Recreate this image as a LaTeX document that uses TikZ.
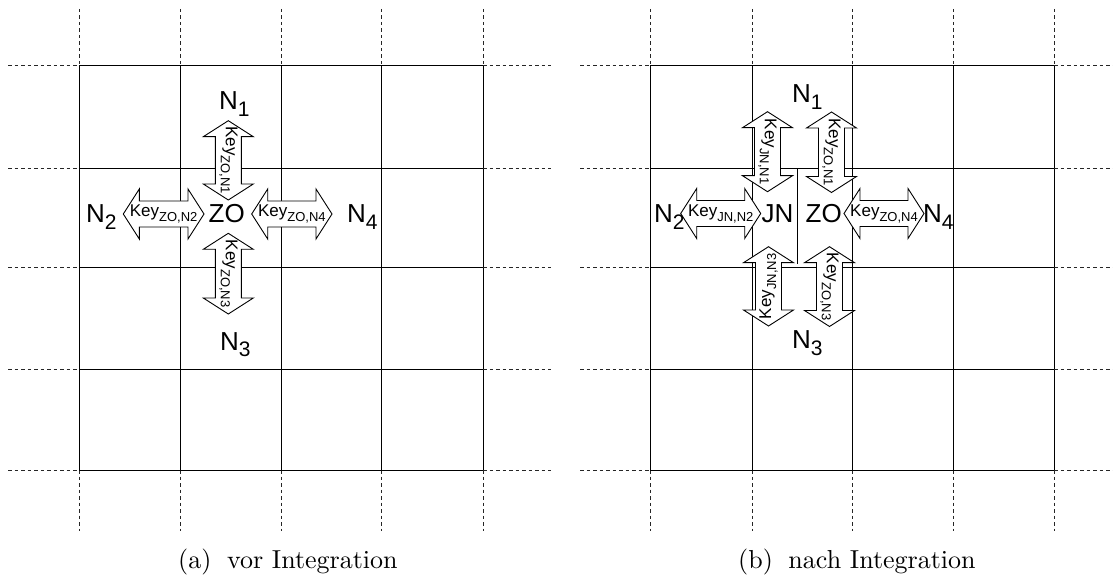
\documentclass[tikz,border=0pt]{standalone}
\usepackage{fontspec}
\newfontfamily\arial{Liberation Sans}
\newfontfamily\capfont{lmroman10-regular}[Extension=.otf]
\newcommand\Nl[1]{N\raisebox{-6.5pt}{\fontsize{21}{21}\selectfont #1}}
\newcommand\Ky[1]{Key\raisebox{-5pt}{\fontsize{13}{13}\selectfont #1}}
\tikzset{
  gridline/.style={line width=1pt, black},
  ext/.style={line width=1pt, black!85, dash pattern=on 3.5pt off 3pt},
  blockarrow/.style={draw=black, fill=white, line width=0.9pt, line join=miter},
  biglab/.style={font=\arial\fontsize{26}{26}\selectfont, inner sep=0pt},
  keylab/.style={font=\arial\fontsize{17}{17}\selectfont, inner sep=0pt},
  caplab/.style={font=\capfont\fontsize{26}{26}\selectfont, inner sep=0pt}
}
% horizontal double block arrow: name, x1, x2, y
\newcommand\harrow[4]{%
  \draw[blockarrow] (#2,#4) -- ({#2+16},{#4-25}) -- ({#2+16},{#4-13}) -- ({#3-16},{#4-13})
    -- ({#3-16},{#4-25}) -- (#3,#4) -- ({#3-16},{#4+25}) -- ({#3-16},{#4+13})
    -- ({#2+16},{#4+13}) -- ({#2+16},{#4+25}) -- cycle;
  \coordinate (#1) at ({(#2+#3)/2},#4);}
% vertical double block arrow: name, x, y1, y2
\newcommand\varrow[4]{%
  \draw[blockarrow] (#2,#3) -- ({#2+25},{#3+16}) -- ({#2+13},{#3+16}) -- ({#2+13},{#4-16})
    -- ({#2+25},{#4-16}) -- (#2,#4) -- ({#2-25},{#4-16}) -- ({#2-13},{#4-16})
    -- ({#2-13},{#3+16}) -- ({#2-25},{#3+16}) -- cycle;
  \coordinate (#1) at (#2,{(#3+#4)/2});}
\begin{document}
\begin{tikzpicture}[x=1pt,y=-1pt]
\useasboundingbox (0,0) rectangle (1113,577);
% ---------- left panel grid ----------
\foreach \x in {79,180,281,381,483} {
  \draw[gridline] (\x,66) -- (\x,470);
  \draw[ext] (\x,9) -- (\x,66);
  \draw[ext] (\x,470) -- (\x,531);
}
\foreach \y in {66,169,268,369,470} {
  \draw[gridline] (79,\y) -- (483,\y);
  \draw[ext] (8,\y) -- (79,\y);
  \draw[ext] (483,\y) -- (551,\y);
}
% ---------- right panel grid ----------
\foreach \x in {650,752,852,953,1054} {
  \draw[gridline] (\x,66) -- (\x,470);
  \draw[ext] (\x,9) -- (\x,66);
  \draw[ext] (\x,470) -- (\x,531);
}
\foreach \y in {66,169,268,369,470} {
  \draw[gridline] (650,\y) -- (1054,\y);
  \draw[ext] (580,\y) -- (650,\y);
  \draw[ext] (1054,\y) -- (1113,\y);
}
\draw[line width=0.9pt] (797,169) -- (797,264);

% ---------- left panel arrows ----------
\varrow{aN1}{228.3}{120.7}{200}
\varrow{aN3}{228.3}{233.3}{314}
\harrow{aN2}{123.3}{204}{214}
\harrow{aN4}{251.7}{332}{214}
\node[keylab, rotate=-90] (kN1) at (aN1) {\Ky{ZO,N1}};
\node[keylab, rotate=-90] (kN3) at (aN3) {\Ky{ZO,N3}};
\node[keylab] (kN2) at (aN2) {\Ky{ZO,N2}};
\node[keylab] (kN4) at (aN4) {\Ky{ZO,N4}};

\node[biglab, anchor=base] (zoL) at (226.7,223) {ZO};
\node[biglab, anchor=base west] (n1L) at (219,110) {\Nl{1}};
\node[biglab, anchor=base west] (n2L) at (86,223) {\Nl{2}};
\node[biglab, anchor=base west] (n3L) at (220,350) {\Nl{3}};
\node[biglab, anchor=base west] (n4L) at (347,223) {\Nl{4}};

% ---------- right panel arrows ----------
\varrow{bJN1}{767.5}{111.7}{191.7}
\varrow{bZO1}{831.5}{112}{192.5}
\varrow{bJN3}{768.5}{246.7}{326}
\varrow{bZO3}{829.5}{246.7}{326.5}
\harrow{bJN2}{680.7}{760.7}{213.5}
\harrow{bZO4}{844}{924}{213.5}
\node[keylab, rotate=-90] (kJN1) at (bJN1) {\Ky{JN,N1}};
\node[keylab, rotate=-90] (kZO1) at (bZO1) {\Ky{ZO,N1}};
\node[keylab, rotate=90] (kJN3) at (bJN3) {\Ky{JN,N3}};
\node[keylab, rotate=-90] (kZO3) at (bZO3) {\Ky{ZO,N3}};
\node[keylab] (kJN2) at (bJN2) {\Ky{JN,N2}};
\node[keylab] (kZO4) at (bZO4) {\Ky{ZO,N4}};

\node[biglab, anchor=base] (jnR) at (777.5,223) {JN};
\node[biglab, anchor=base] (zoR) at (823.7,223) {ZO};
\node[biglab, anchor=base west] (n1R) at (792,103) {\Nl{1}};
\node[biglab, anchor=base west] (n2R) at (654,223) {\Nl{2}};
\node[biglab, anchor=base west] (n3R) at (792,348.5) {\Nl{3}};
\node[biglab, anchor=base west] (n4R) at (923,223) {\Nl{4}};

% ---------- captions ----------
\node[caplab, anchor=base west] (capa) at (178,568) {(a)\hspace{0.6em}vor Integration};
\node[caplab, anchor=base west] (capb) at (738,568) {(b)\hspace{0.6em}nach Integration};
\end{tikzpicture}
\end{document}
